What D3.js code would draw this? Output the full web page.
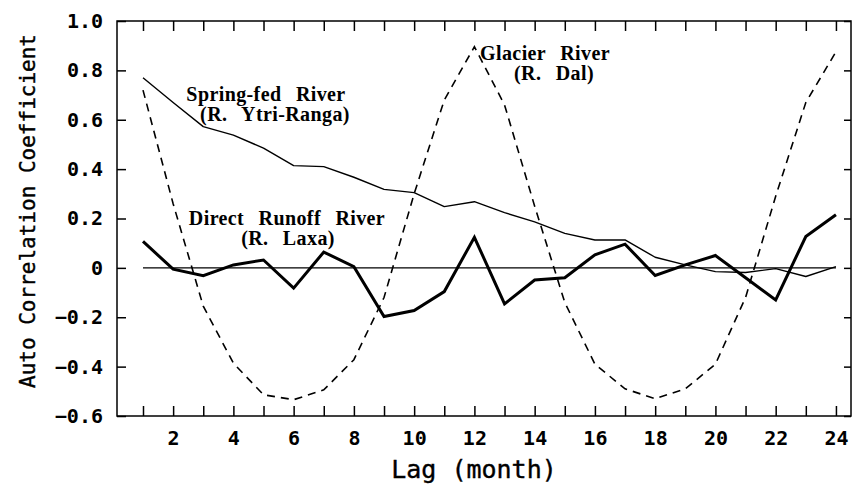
<!DOCTYPE html>
<html>
<head>
<meta charset="utf-8">
<script src="https://cdn.jsdelivr.net/npm/d3@7"></script>
<style>
  html, body { margin: 0; padding: 0; background: #fff; }
  svg { display: block; }
  .tick text { font-family: "DejaVu Sans Mono", monospace; font-weight: bold; font-size: 20px; fill: #000; }
  .note { font-family: "Liberation Serif", "DejaVu Serif", serif; font-weight: bold; font-size: 20px; fill: #000; }
</style>
</head>
<body>
<svg id="chart" width="852" height="485"></svg>
<script>
const lags = d3.range(1, 25);

// Spring-fed River (R. Ytri-Ranga) - thin solid
const springFed = [0.77, 0.67, 0.572, 0.538, 0.485, 0.414, 0.41, 0.367, 0.318, 0.305, 0.248, 0.268,
                   0.224, 0.186, 0.14, 0.113, 0.113, 0.043, 0.012, -0.015, -0.019, -0.003, -0.035, 0.005];
// Direct Runoff River (R. Laxa) - thick solid
const directRunoff = [0.107, -0.005, -0.032, 0.012, 0.032, -0.082, 0.064, 0.005, -0.197, -0.173, -0.096, 0.124,
                      -0.146, -0.049, -0.04, 0.053, 0.096, -0.031, 0.012, 0.05, -0.04, -0.13, 0.127, 0.215];
// Glacier River (R. Dal) - dashed
const glacier = [0.72, 0.26, -0.155, -0.386, -0.514, -0.534, -0.494, -0.372, -0.12, 0.30, 0.68, 0.896,
                 0.66, 0.25, -0.14, -0.39, -0.49, -0.53, -0.49, -0.39, -0.12, 0.29, 0.67, 0.875];

const yTicks = [-0.6, -0.4, -0.2, 0, 0.2, 0.4, 0.6, 0.8, 1.0];
const xLabels = [2, 4, 6, 8, 10, 12, 14, 16, 18, 20, 22, 24];

const plotLeft = 117, plotRight = 851, plotTop = 21, plotBottom = 416;

const svg = d3.select('#chart');

const x = d3.scaleLinear().domain([0.137, 24.5]).range([plotLeft, plotRight]);
const y = d3.scaleLinear().domain([-0.6, 1.0]).range([plotBottom, plotTop]);

// frame
svg.append('rect')
    .attr('x', plotLeft).attr('y', plotTop)
    .attr('width', plotRight - plotLeft).attr('height', plotBottom - plotTop)
    .attr('fill', 'none').attr('stroke', '#000').attr('stroke-width', 1.5);

// bottom axis, ticks point inward
svg.append('g')
    .attr('transform', `translate(0,${plotBottom})`)
    .call(d3.axisBottom(x).tickValues(lags).tickSizeInner(-10).tickSizeOuter(0).tickPadding(15)
        .tickFormat(d => xLabels.includes(d) ? d : ''))
    .call(g => g.select('.domain').remove())
    .call(g => g.selectAll('.tick line').attr('stroke-width', 1.5));

// top axis
svg.append('g')
    .attr('transform', `translate(0,${plotTop})`)
    .call(d3.axisTop(x).tickValues(lags).tickSizeInner(-10).tickSizeOuter(0).tickFormat(''))
    .call(g => g.select('.domain').remove())
    .call(g => g.selectAll('.tick line').attr('stroke-width', 1.5));

// left axis
svg.append('g')
    .attr('transform', `translate(${plotLeft},0)`)
    .call(d3.axisLeft(y).tickValues(yTicks).tickSizeInner(-9).tickSizeOuter(0).tickPadding(14)
        .tickFormat(d => d === 0 ? '0' : d3.format('.1f')(d)))
    .call(g => g.select('.domain').remove())
    .call(g => g.selectAll('.tick line').attr('stroke-width', 1.5));

// right axis
svg.append('g')
    .attr('transform', `translate(${plotRight},0)`)
    .call(d3.axisRight(y).tickValues(yTicks).tickSizeInner(-7).tickSizeOuter(0).tickFormat(''))
    .call(g => g.select('.domain').remove())
    .call(g => g.selectAll('.tick line').attr('stroke-width', 1.5));

// zero line
svg.append('line')
    .attr('x1', x(1)).attr('x2', x(24))
    .attr('y1', y(0)).attr('y2', y(0))
    .attr('stroke', '#000').attr('stroke-width', 1.3);

const line = d3.line()
    .x((d, i) => x(lags[i]))
    .y(d => y(d));

svg.append('path')
    .datum(glacier)
    .attr('d', line)
    .attr('fill', 'none').attr('stroke', '#000')
    .attr('stroke-width', 1.6).attr('stroke-dasharray', '8,6');

svg.append('path')
    .datum(springFed)
    .attr('d', line)
    .attr('fill', 'none').attr('stroke', '#000')
    .attr('stroke-width', 1.4).attr('stroke-linejoin', 'round');

svg.append('path')
    .datum(directRunoff)
    .attr('d', line)
    .attr('fill', 'none').attr('stroke', '#000')
    .attr('stroke-width', 3).attr('stroke-linejoin', 'miter');

// notes
const notes = [
    { t: 'Spring-fed River', x: 266, y: 101 },
    { t: '(R. Ytri-Ranga)', x: 275, y: 121 },
    { t: 'Direct Runoff River', x: 287, y: 225 },
    { t: '(R. Laxa)', x: 288, y: 245 },
    { t: 'Glacier River', x: 545, y: 60 },
    { t: '(R. Dal)', x: 554, y: 80 }
];
svg.selectAll('.note')
    .data(notes).enter()
    .append('text')
        .attr('class', 'note')
        .attr('x', d => d.x).attr('y', d => d.y)
        .attr('text-anchor', 'middle')
        .attr('word-spacing', 9)
        .attr('letter-spacing', 0.4)
        .text(d => d.t);

// axis titles
svg.append('text')
    .attr('transform', 'translate(35,211) rotate(-90)')
    .attr('text-anchor', 'middle')
    .style('font-family', '"DejaVu Sans Mono", monospace')
    .style('font-size', '21px')
    .style('stroke', '#000').style('stroke-width', 0.4)
    .text('Auto Correlation Coefficient');

svg.append('text')
    .attr('x', 474).attr('y', 478)
    .attr('text-anchor', 'middle')
    .style('font-family', '"DejaVu Sans Mono", monospace')
    .style('font-size', '25px')
    .style('stroke', '#000').style('stroke-width', 0.4)
    .text('Lag (month)');
</script>
</body>
</html>
